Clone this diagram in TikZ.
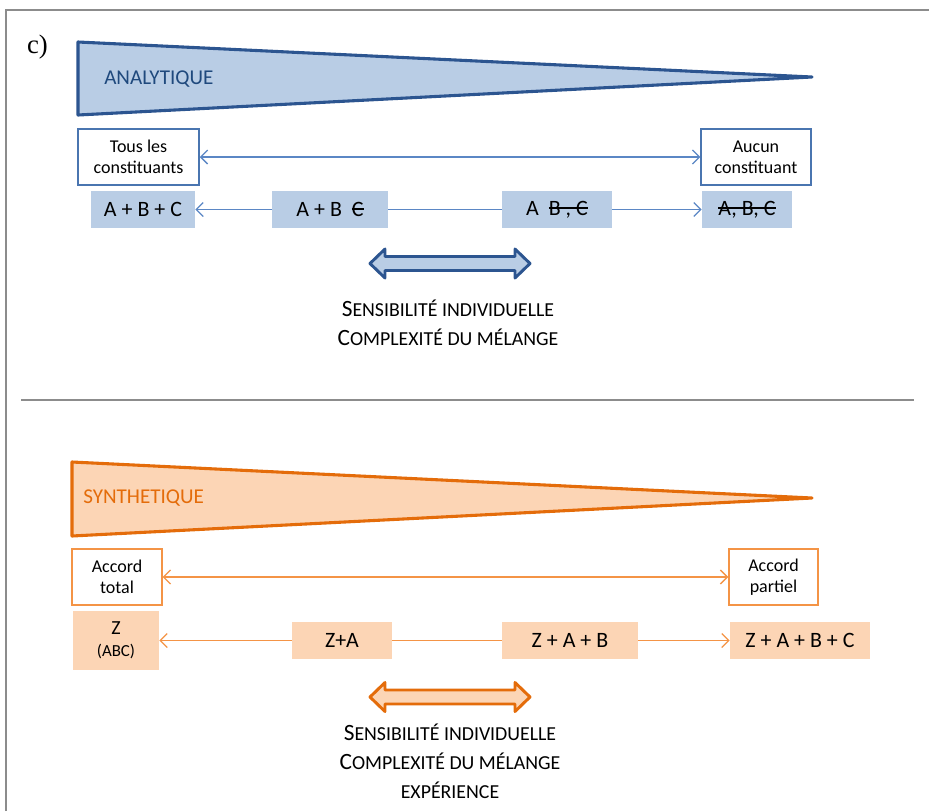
\documentclass[tikz,border=0pt]{standalone}
\usepackage{fontspec}
\setmainfont{Carlito}
\newfontfamily\lettrefont{Liberation Serif}
\usetikzlibrary{arrows.meta,positioning}
\definecolor{anbl}{HTML}{2C5590}
\definecolor{anbltext}{HTML}{1F497D}
\definecolor{anblfill}{HTML}{B9CDE5}
\definecolor{anblline}{HTML}{5B87C5}
\definecolor{anblbox}{HTML}{4A75B0}
\definecolor{syor}{HTML}{E46C0A}
\definecolor{syorfill}{HTML}{FCD5B5}
\definecolor{syorline}{HTML}{F49446}
\definecolor{cadre}{HTML}{8C8C8C}
% struck-out letters
\newcommand{\barre}[1]{\setbox0\hbox{#1}\rlap{\rule[0.3em]{\wd0}{0.07em}}\box0}
% small capitals, drawn by hand
\newcommand{\petit}[1]{{\fontsize{14.1}{20.6}\selectfont #1}}

\begin{document}
\begin{tikzpicture}[x=0.025cm,y=-0.025cm,
  lbl/.style={font=\fontsize{12.8}{15}\selectfont,align=center,inner sep=0pt,
              minimum height=1.4cm},
  anbox/.style={lbl,draw=anblbox,line width=0.9pt,fill=white},
  sybox/.style={lbl,draw=syorline,line width=0.9pt,fill=white},
  ancase/.style={fill=anblfill,font=\fontsize{15.6}{18}\selectfont,
              minimum height=0.93cm,inner sep=0pt},
  sycase/.style={ancase,fill=syorfill},
  anfl/.style={anblline,line width=0.9pt},
  syfl/.style={syorline,line width=0.9pt},
  tip/.style={-{Straight Barb[length=5pt,width=10pt]}},
  bitip/.style={{Straight Barb[length=5pt,width=10pt]}-{Straight Barb[length=5pt,width=10pt]}},
  legende/.style={font=\fontsize{16.6}{20.6}\selectfont,align=center,inner sep=0pt},
  titre/.style={font=\fontsize{15}{18}\selectfont,inner sep=0pt,anchor=west}]

\useasboundingbox (0,0) rectangle (929,811);

% ---------------- frame ----------------------------------------------------
\draw[cadre,line width=1.5pt] (6,811) -- (6,10) -- (929,10);
\node[font=\lettrefont\fontsize{19}{22}\selectfont,inner sep=0pt] (lettre) at (37.5,47) {c)};
\draw[cadre,line width=1.1pt] (21,400) -- (914,400);

% ---------------- upper half: analytique -----------------------------------
\draw[anbl,fill=anblfill,line width=2.2pt,line join=round]
  (78,42) -- (812,77) -- (78,115) -- cycle;
\node[titre,text=anbltext] (ana) at (104,79) {ANALYTIQUE};

\node[anbox,minimum width=3.03cm] (tous) at (138.5,157) {Tous les\\constituants};
\node[anbox,minimum width=2.75cm] (aucun) at (756,157) {Aucun\\constituant};
\draw[anfl,bitip] (tous) -- (aucun);

\node[ancase,minimum width=2.6cm] (abc) at (143,209.5) {A + B + C};
\node[ancase,minimum width=2.9cm] (abnc) at (330,209.5) {A + B \ \barre{C}};
\node[ancase,minimum width=2.75cm] (anbc) at (557,209.5) {A \ \barre{B , C}};
\node[ancase,minimum width=2.25cm] (rien) at (747,209.5) {\barre{A, B, C}};
\draw[anfl,tip] (abnc) -- (abc);
\draw[anfl] (abnc) -- (anbc);
\draw[anfl,tip] (anbc) -- (rien);

\draw[anbl,fill=anblfill,line width=2.1pt,line join=round]
  (370,263.5) -- (385,249) -- (385,256.5) -- (515,256.5) -- (515,249)
  -- (530,263.5) -- (515,278) -- (515,270.5) -- (385,270.5) -- (385,278) -- cycle;
\node[legende] (ancap) at (448,323)
  {S\petit{ENSIBILITÉ INDIVIDUELLE}\\C\petit{OMPLEXITÉ DU MÉLANGE}};

% ---------------- lower half: synthetique ----------------------------------
\draw[syor,fill=syorfill,line width=2.2pt,line join=round]
  (72,462) -- (812,498) -- (72,536) -- cycle;
\node[titre,text=syor] (syn) at (83,498) {SYNTHETIQUE};

\node[sybox,minimum width=2.25cm] (total) at (117,577) {Accord\\total};
\node[sybox,minimum width=2.23cm] (partiel) at (773.5,577) {Accord\\partiel};
\draw[syfl,bitip] (total) -- (partiel);

\node[sycase,minimum width=2.15cm,minimum height=1.48cm,align=center,
      font=\fontsize{14.2}{17}\selectfont] (z) at (116,640.5)
  {Z\\[-1pt]{\fontsize{12}{14}\selectfont (ABC)}};
\node[sycase,minimum width=2.5cm] (za) at (342,640.5) {Z+A};
\node[sycase,minimum width=3.4cm] (zab) at (570,640.5) {Z + A + B};
\node[sycase,minimum width=3.5cm] (zabc) at (800,640.5) {Z + A + B + C};
\draw[syfl,tip] (za) -- (z);
\draw[syfl] (za) -- (zab);
\draw[syfl,tip] (zab) -- (zabc);

\draw[syor,fill=syorfill,line width=2.1pt,line join=round]
  (370,697) -- (385,682.5) -- (385,690) -- (515,690) -- (515,682.5)
  -- (530,697) -- (515,711.5) -- (515,704) -- (385,704) -- (385,711.5) -- cycle;
\node[legende] (sycap) at (450,761.5)
  {S\petit{ENSIBILITÉ INDIVIDUELLE}\\C\petit{OMPLEXITÉ DU MÉLANGE}\\\petit{EXPÉRIENCE}};

\end{tikzpicture}
\end{document}
